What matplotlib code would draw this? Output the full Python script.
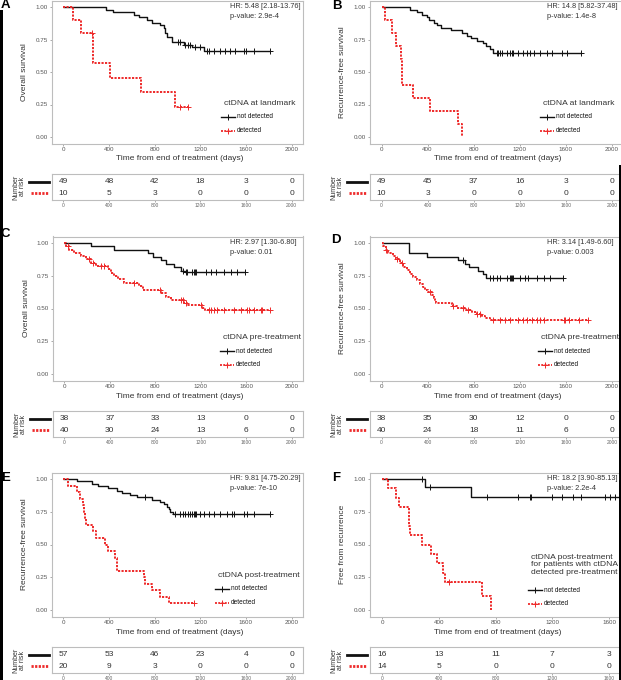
import numpy as np
import matplotlib
matplotlib.use("Agg")
import matplotlib.pyplot as plt
from matplotlib.lines import Line2D
from matplotlib.patches import Rectangle

plt.rcParams["font.family"] = ["Liberation Sans", "DejaVu Sans"]

W, H = 621, 680
BLACK = "#111111"
RED = "#ee2a2a"
EDGE = "#bdbdbd"
TXT = "#333333"
TICK = "#555555"

ticks = [0, 400, 800, 1200, 1600, 2000]

# ---- A: overall survival, ctDNA at landmark ----
a_nd_t = [375, 439, 615, 659, 732, 776, 849, 878, 893, 908, 952, 1054, 1127, 1230]
a_nd_s = [0.98, 0.96, 0.94, 0.92, 0.90, 0.88, 0.86, 0.84, 0.80, 0.77, 0.73, 0.71, 0.69, 0.665]
a_nd_c = [1000, 1025, 1063, 1090, 1113, 1157, 1200, 1259, 1280, 1318, 1376, 1420,
          1464, 1508, 1581, 1600, 1669, 1810]
a_nd_end = 1810
a_d_t = [88, 155, 255, 404, 682, 975]
a_d_s = [0.9, 0.8, 0.571, 0.457, 0.343, 0.229]
a_d_c = [249, 1025, 1092]
a_d_end = 1092
a_risk_nd = [49, 48, 42, 18, 3, 0]
a_risk_d = [10, 5, 3, 0, 0, 0]

# ---- B: recurrence-free survival, ctDNA at landmark ----
b_nd_t = [246, 310, 354, 391, 412, 455, 478, 513, 600, 700, 740, 775, 830, 880, 910, 940, 965]
b_nd_s = [0.98, 0.96, 0.94, 0.92, 0.90, 0.88, 0.86, 0.84, 0.82, 0.80, 0.78, 0.76, 0.74,
          0.72, 0.70, 0.675, 0.65]
b_nd_c = [1000, 1014, 1029, 1043, 1087, 1116, 1130, 1145, 1188, 1232, 1261, 1290, 1319,
          1377, 1435, 1478, 1565, 1609, 1735]
b_nd_end = 1735
b_d_t = [29, 88, 126, 170, 175, 180, 269, 424, 667, 702]
b_d_s = [0.9, 0.8, 0.7, 0.6, 0.5, 0.4, 0.3, 0.2, 0.1, 0.0]
b_d_c = []
b_d_end = 702
b_risk_nd = [49, 45, 37, 16, 3, 0]
b_risk_d = [10, 3, 0, 0, 0, 0]

# ---- C: overall survival, ctDNA pre-treatment ----
c_nd_t = [234, 439, 732, 776, 849, 893, 966, 1025, 1063]
c_nd_s = [0.974, 0.947, 0.921, 0.895, 0.868, 0.842, 0.816, 0.79, 0.778]
c_nd_c = [1040, 1069, 1083, 1127, 1142, 1150, 1162, 1245, 1288, 1332, 1406, 1464, 1523, 1590]
c_nd_end = 1590
c_d_t = [15, 44, 88, 146, 190, 234, 278, 381, 410, 439, 469, 527, 659, 688, 849, 893,
         937, 1054, 1083, 1215, 1236]
c_d_s = [0.975, 0.95, 0.925, 0.90, 0.875, 0.85, 0.825, 0.80, 0.775, 0.75, 0.725, 0.695,
         0.67, 0.64, 0.615, 0.59, 0.565, 0.545, 0.525, 0.505, 0.487]
c_d_c = [29, 220, 249, 322, 351, 615, 843, 1025, 1048, 1072, 1200, 1274, 1294, 1318, 1347,
         1406, 1493, 1552, 1611, 1625, 1669, 1728, 1742, 1810]
c_d_end = 1810
c_risk_nd = [38, 37, 33, 13, 0, 0]
c_risk_d = [40, 30, 24, 13, 6, 0]

# ---- D: recurrence-free survival, ctDNA pre-treatment ----
d_nd_t = [236, 238, 240, 391, 667, 725, 762, 841, 884, 904]
d_nd_s = [0.974, 0.947, 0.921, 0.895, 0.868, 0.842, 0.816, 0.789, 0.763, 0.733]
d_nd_c = [710, 942, 971, 1000, 1029, 1087, 1116, 1125, 1133, 1145, 1203, 1246, 1275,
          1348, 1406, 1464, 1571]
d_nd_end = 1571
d_d_t = [14, 35, 58, 101, 125, 159, 188, 217, 246, 275, 304, 333, 357, 377, 406, 435,
         455, 465, 472, 609, 652, 725, 783, 826, 870, 899, 942]
d_d_s = [0.975, 0.95, 0.925, 0.90, 0.875, 0.85, 0.82, 0.795, 0.766, 0.74, 0.715, 0.69,
         0.665, 0.645, 0.625, 0.60, 0.58, 0.56, 0.54, 0.52, 0.505, 0.49, 0.475, 0.46,
         0.445, 0.43, 0.414]
d_d_c = [43, 136, 174, 420, 623, 710, 754, 830, 855, 971, 1029, 1072, 1116, 1188, 1232,
         1261, 1304, 1348, 1377, 1406, 1580, 1594, 1623, 1710, 1788]
d_d_end = 1788
d_risk_nd = [38, 35, 30, 12, 0, 0]
d_risk_d = [40, 24, 18, 11, 6, 0]

# ---- E: recurrence-free survival, ctDNA post-treatment ----
e_nd_t = [117, 249, 307, 395, 469, 512, 586, 644, 776, 849, 880, 908, 925, 937, 960]
e_nd_s = [0.982, 0.965, 0.947, 0.93, 0.912, 0.895, 0.877, 0.86, 0.842, 0.824, 0.807,
          0.789, 0.77, 0.752, 0.735]
e_nd_c = [717, 981, 1025, 1048, 1069, 1089, 1113, 1127, 1142, 1151, 1163, 1200, 1230,
          1274, 1318, 1376, 1435, 1479, 1493, 1581, 1611, 1669, 1810]
e_nd_end = 1810
e_d_t = [44, 117, 146, 170, 181, 190, 199, 258, 287, 366, 395, 454, 469, 474, 703, 717,
         776, 843, 922]
e_d_s = [0.95, 0.90, 0.85, 0.80, 0.75, 0.70, 0.65, 0.60, 0.55, 0.50, 0.45, 0.40, 0.35,
         0.30, 0.25, 0.20, 0.15, 0.10, 0.05]
e_d_c = [1142]
e_d_end = 1142
e_risk_nd = [57, 53, 46, 23, 4, 0]
e_risk_d = [20, 9, 3, 0, 0, 0]

# ---- F: free from recurrence, post-treatment among pre-treatment positive ----
f_nd_t = [305, 628]
f_nd_s = [0.9375, 0.865]
f_nd_c = [281, 335, 738, 960, 1042, 1049, 1195, 1270, 1347, 1405, 1570, 1605, 1640,
          1720, 1800]
f_nd_end = 1800
f_d_t = [40, 101, 117, 188, 192, 196, 281, 344, 386, 429, 445, 707, 768]
f_d_s = [0.929, 0.857, 0.786, 0.714, 0.643, 0.571, 0.50, 0.429, 0.357, 0.286, 0.214,
         0.107, 0.0]
f_d_c = [470]
f_d_end = 768
f_risk_nd = [16, 13, 11, 7, 3]
f_risk_d = [14, 5, 0, 0, 0]

panels = [
    dict(tag="A", ylab="Overall survival", leg="ctDNA at landmark",
         hr="HR: 5.48 [2.18-13.76]", p="p-value: 2.9e-4",
         nd=(a_nd_t, a_nd_s, a_nd_c, a_nd_end), d=(a_d_t, a_d_s, a_d_c, a_d_end),
         risk=(a_risk_nd, a_risk_d)),
    dict(tag="B", ylab="Recurrence-free survival", leg="ctDNA at landmark",
         hr="HR: 14.8 [5.82-37.48]", p="p-value: 1.4e-8",
         nd=(b_nd_t, b_nd_s, b_nd_c, b_nd_end), d=(b_d_t, b_d_s, b_d_c, b_d_end),
         risk=(b_risk_nd, b_risk_d)),
    dict(tag="C", ylab="Overall survival", leg="ctDNA pre-treatment",
         hr="HR: 2.97 [1.30-6.80]", p="p-value: 0.01",
         nd=(c_nd_t, c_nd_s, c_nd_c, c_nd_end), d=(c_d_t, c_d_s, c_d_c, c_d_end),
         risk=(c_risk_nd, c_risk_d)),
    dict(tag="D", ylab="Recurrence-free survival", leg="ctDNA pre-treatment",
         hr="HR: 3.14 [1.49-6.60]", p="p-value: 0.003",
         nd=(d_nd_t, d_nd_s, d_nd_c, d_nd_end), d=(d_d_t, d_d_s, d_d_c, d_d_end),
         risk=(d_risk_nd, d_risk_d)),
    dict(tag="E", ylab="Recurrence-free survival", leg="ctDNA post-treatment",
         hr="HR: 9.81 [4.75-20.29]", p="p-value: 7e-10",
         nd=(e_nd_t, e_nd_s, e_nd_c, e_nd_end), d=(e_d_t, e_d_s, e_d_c, e_d_end),
         risk=(e_risk_nd, e_risk_d)),
    dict(tag="F", ylab="Free from recurrence",
         leg="ctDNA post-treatment\nfor patients with ctDNA\ndetected pre-treatment",
         hr="HR: 18.2 [3.90-85.13]", p="p-value: 2.2e-4",
         nd=(f_nd_t, f_nd_s, f_nd_c, f_nd_end), d=(f_d_t, f_d_s, f_d_c, f_d_end),
         risk=(f_risk_nd, f_risk_d)),
]

# layout in pixels: plot box, risk box, xlim, visible ticks, legend anchor, tag centre
geo = {
    "A": dict(box=(52, 0.5, 303, 143.5), tab=(52, 174, 303, 200), xlim=(-100, 2100),
              nt=6, leg=(224, 104), tagxy=(5.5, 5.5)),
    "B": dict(box=(370, 0.5, 623.5, 143.5), tab=(370, 174, 623.5, 200), xlim=(-100, 2100),
              nt=6, leg=(543, 104), tagxy=(336.5, 6)),
    "C": dict(box=(53, 236.5, 303, 380.5), tab=(53, 411, 303, 437), xlim=(-100, 2100),
              nt=6, leg=(223, 338), tagxy=(5.5, 234)),
    "D": dict(box=(370, 236.5, 623.5, 380.5), tab=(370, 411, 623.5, 437), xlim=(-100, 2100),
              nt=6, leg=(541, 338), tagxy=(336, 240)),
    "E": dict(box=(52, 472.5, 303, 616.5), tab=(52, 647, 303, 673), xlim=(-100, 2100),
              nt=6, leg=(218, 576), tagxy=(5.5, 478)),
    "F": dict(box=(370, 472.5, 680, 616.5), tab=(370, 647, 680, 673), xlim=(-85, 2100),
              nt=5, leg=(531, 558), tagxy=(336.5, 478)),
}

RED_LS = (0, (1.1, 0.7))

fig = plt.figure(figsize=(W / 100, H / 100), dpi=100)


def rect(b):
    l, t, r, bt = b
    return [l / W, 1 - bt / H, (r - l) / W, (bt - t) / H]


def fx(x):
    return x / W


def fy(y):
    return 1 - y / H


def km(ax, curve, color, ls, lw):
    t, s, c, end = curve
    t = np.asarray(t, float)
    s = np.asarray(s, float)
    ax.step(np.r_[0, t, end], np.r_[1.0, s, s[-1]], where="post",
            color=color, ls=ls, lw=lw, solid_capstyle="butt")
    if len(c):
        c = np.asarray(c, float)
        lev = np.r_[1.0, s][np.searchsorted(t, c, side="right")]
        ax.plot(c, lev, ls="none", marker="+", ms=4, mew=0.7, color=color)


for p in panels:
    g = geo[p["tag"]]
    l, t, r, b = g["box"]
    vt = ticks[:g["nt"]]
    ax = fig.add_axes(rect(g["box"]))
    km(ax, p["nd"], BLACK, "-", 1.0)
    km(ax, p["d"], RED, RED_LS, 1.4)
    ax.set_xlim(*g["xlim"])
    ax.set_ylim(-0.05, 1.05)
    ax.set_xticks(vt)
    ax.set_yticks([0, 0.25, 0.5, 0.75, 1.0])
    ax.set_yticklabels(["0.00", "0.25", "0.50", "0.75", "1.00"])
    for sp in ax.spines.values():
        sp.set_color(EDGE)
        sp.set_linewidth(0.8)
    ax.tick_params(length=1.6, width=0.5, color="#888888", labelsize=4.5,
                   labelcolor=TICK, pad=1.2)

    w, h = r - l, b - t
    ax.text(-27 / w, 0.5, p["ylab"], transform=ax.transAxes, rotation=90,
            ha="center", va="center", fontsize=6, color=TXT)
    xc = 180 if l < 200 else 498
    ax.text((xc - l) / w, -15.5 / h, "Time from end of treatment (days)",
            transform=ax.transAxes, ha="center", va="center", fontsize=6, color=TXT)

    # HR / p-value
    hx = 230 if l < 200 else 547
    ax.text((hx - l) / w, 1 - 6.5 / h, p["hr"], transform=ax.transAxes,
            ha="left", va="center", fontsize=5.3, color=TXT)
    ax.text((hx - l) / w, 1 - 15.5 / h, p["p"], transform=ax.transAxes,
            ha="left", va="center", fontsize=5.3, color=TXT)

    # legend
    lx, ly = g["leg"]
    nlines = p["leg"].count("\n") + 1
    fig.text(fx(lx), fy(ly - 4), p["leg"], ha="left", va="top", fontsize=6.1,
             color=TXT, linespacing=1.05)
    r1 = ly + 13 + (nlines - 1) * 9.5
    for k, (col, ls, lw, lab) in enumerate([(BLACK, "-", 1.0, "not detected"),
                                            (RED, RED_LS, 1.3, "detected")]):
        yy = fy(r1 + k * 13.5)
        fig.add_artist(Line2D([fx(lx - 3), fx(lx + 11)], [yy, yy], color=col, ls=ls, lw=lw))
        fig.add_artist(Line2D([fx(lx + 4)], [yy], color=col, marker="+", ms=4, mew=0.7))
        fig.text(fx(lx + 13), yy, lab, ha="left", va="center", fontsize=4.7, color=BLACK)

    # panel tag
    tx, ty = g["tagxy"]
    fig.text(fx(tx), fy(ty), p["tag"], ha="center", va="center", fontsize=9.5,
             fontweight="bold", color="black")

    # risk table
    tl, tt, tr, tb = g["tab"]
    at = fig.add_axes(rect(g["tab"]))
    at.set_xlim(*g["xlim"])
    at.set_ylim(1, 0)
    at.set_yticks([])
    at.set_xticks(vt)
    for sp in at.spines.values():
        sp.set_color(EDGE)
        sp.set_linewidth(0.8)
    at.tick_params(length=1.4, width=0.5, color="#888888", labelsize=3.5,
                   labelcolor="#666666", pad=0.8)
    for row, vals in zip([0.3, 0.74], p["risk"]):
        for tk, v in zip(vt, vals):
            at.text(tk, row, str(v), ha="center", va="center", fontsize=6, color=TXT)
    ymid = (tt + tb) / 2
    fig.text(fx(tl - 33), fy(ymid), "Number\nat risk", rotation=90, ha="center",
             va="center", fontsize=5, color=TXT, linespacing=1.0)
    y1 = tt + 0.3 * (tb - tt)
    y2 = tt + 0.74 * (tb - tt)
    fig.add_artist(Line2D([fx(tl - 23), fx(tl - 3)], [fy(y1), fy(y1)], color=BLACK, lw=2.0))
    fig.add_artist(Line2D([fx(tl - 21), fx(tl - 3)], [fy(y2), fy(y2)], color=RED,
                          lw=2.0, ls=(0, (0.8, 0.5))))

# dark bars at the image edges
fig.add_artist(Rectangle((0, 0), 2.6 / W, fy(10), transform=fig.transFigure,
                         color="black", lw=0))
fig.add_artist(Rectangle((fx(618.5), 0), 2.5 / W, fy(165), transform=fig.transFigure,
                         color="black", lw=0))

fig.savefig("out.png", dpi=100)
